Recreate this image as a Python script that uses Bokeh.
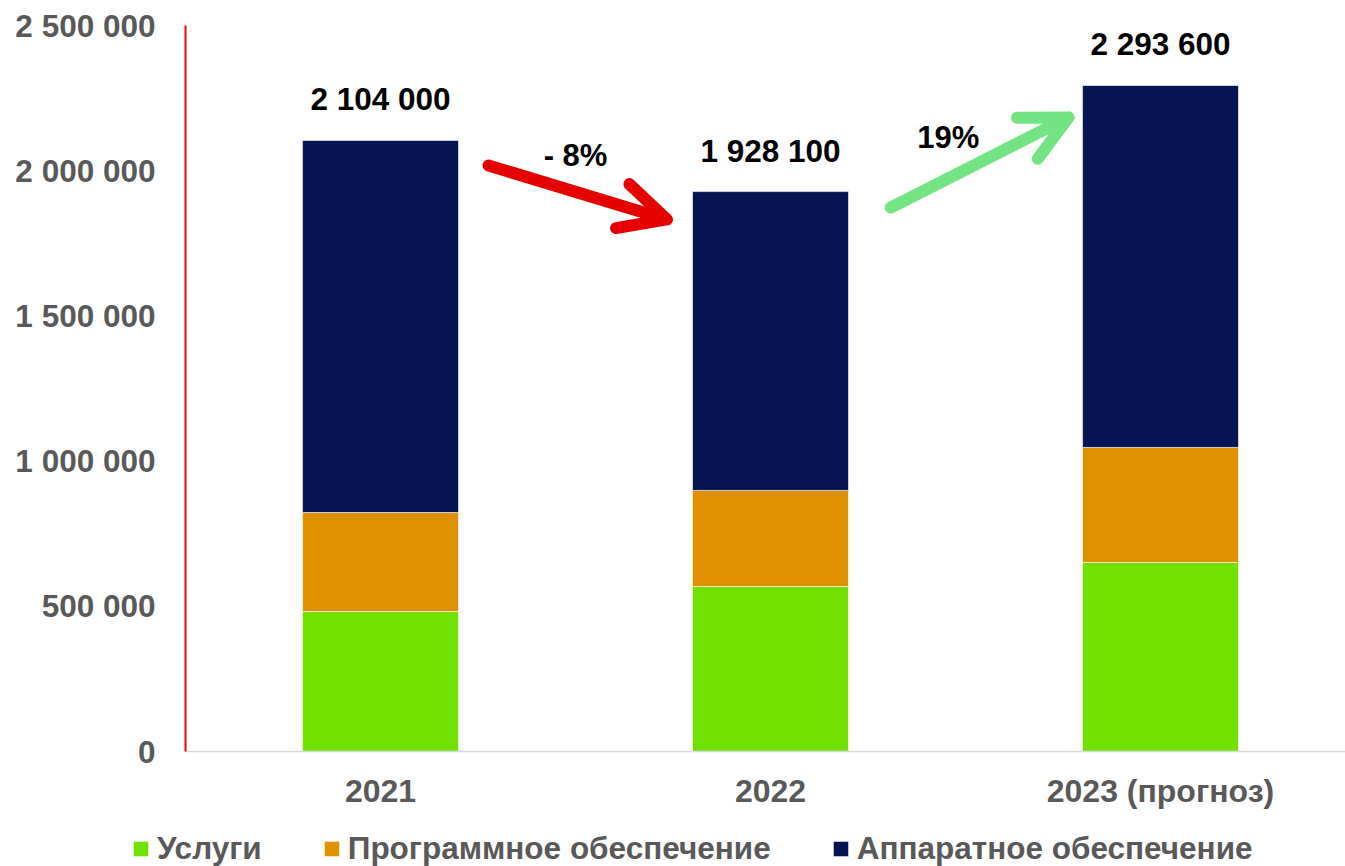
from bokeh.plotting import figure
from bokeh.models import (Range1d, FixedTicker, CustomJSTickFormatter, Legend, LegendItem,
                          Arrow, OpenHead, Label, ColumnDataSource)
from bokeh.core.properties import value
from bokeh.embed import file_html
from bokeh.resources import INLINE

years = ["2021", "2022", "2023 (прогноз)"]
series_names = ["Услуги", "Программное обеспечение", "Аппаратное обеспечение"]
services = [482000, 568000, 651000]
software = [341000, 331000, 396000]
hardware = [1281000, 1029100, 1246600]
y_ticks = [0, 500000, 1000000, 1500000, 2000000, 2500000]
change_labels = ["- 8%", "19%"]

colors = ["#72E000", "#DE9200", "#061551"]
FONT = "Liberation Sans"
GRAY = "#595959"

xs = [i + 0.5 for i in range(len(years))]
totals = [a + b + c for a, b, c in zip(services, software, hardware)]
total_txt = [f"{t:,}".replace(",", " ") for t in totals]

src = ColumnDataSource(dict(x=xs, s=services, w=software, h=hardware,
                            tot=totals, txt=total_txt))

W, H = 1345, 866
# frame covers the whole canvas; axes are pinned at 0 so the legend area stays inside
px_per_x = 390.0
px_per_y = 726.0 / 2500000
x0_px, y0_px = 185, 751
x_rng = Range1d(-x0_px / px_per_x, (W - x0_px) / px_per_x)
y_rng = Range1d(-(H - y0_px) / px_per_y, y0_px / px_per_y)

p = figure(width=W, height=H, output_backend="svg", toolbar_location=None,
           x_range=x_rng, y_range=y_rng,
           min_border_left=0, min_border_right=0, min_border_top=0, min_border_bottom=0)
p.outline_line_color = None
p.xgrid.visible = False
p.ygrid.visible = False

rs = p.vbar_stack(["s", "w", "h"], x="x", width=0.4, source=src, color=colors,
                  line_color="#ffffff", line_alpha=0.6, line_width=1)

p.text(x="x", y="tot", text="txt", source=src, y_offset=-41,
       text_font=value(FONT), text_font_style="bold", text_font_size="31.5px",
       text_color="#000000", text_align="center", text_baseline="middle")

# y axis
p.yaxis.fixed_location = 0
p.yaxis.bounds = (0, y_ticks[-1])
p.yaxis.ticker = FixedTicker(ticks=y_ticks)
p.yaxis.formatter = CustomJSTickFormatter(
    code='return Math.round(tick).toString().replace(/\\B(?=(\\d{3})+(?!\\d))/g, " ");')
p.yaxis.axis_line_color = "#FF0000"
p.yaxis.axis_line_width = 2
p.yaxis.major_tick_line_color = None
p.yaxis.minor_tick_line_color = None
p.yaxis.major_label_standoff = 24
p.yaxis.major_label_text_font = FONT
p.yaxis.major_label_text_font_style = "bold"
p.yaxis.major_label_text_font_size = "31.5px"
p.yaxis.major_label_text_color = GRAY

# x axis
p.xaxis.fixed_location = 0
p.xaxis.bounds = (0, x_rng.end)
p.xaxis.ticker = FixedTicker(ticks=xs)
p.xaxis.major_label_overrides = {x: y for x, y in zip(xs, years)}
p.xaxis.axis_line_color = "#D9D9D9"
p.xaxis.axis_line_width = 1.5
p.xaxis.major_tick_line_color = None
p.xaxis.minor_tick_line_color = None
p.xaxis.major_label_standoff = 15
p.xaxis.major_label_text_font = FONT
p.xaxis.major_label_text_font_style = "bold"
p.xaxis.major_label_text_font_size = "32px"
p.xaxis.major_label_text_color = GRAY

# arrows (anchored to bar edges / totals)
red = "#E60000"
green = "#74E383"
p.add_layout(Arrow(end=OpenHead(size=46, line_color=red, line_width=12, line_cap="round", line_join="round"),
                   x_start=xs[0] + 0.277, y_start=totals[0] - 86000,
                   x_end=xs[1] - 0.266, y_end=totals[1] - 96000,
                   line_color=red, line_width=12, line_cap="round"))
p.add_layout(Arrow(end=OpenHead(size=46, line_color=green, line_width=12, line_cap="round", line_join="round"),
                   x_start=xs[1] + 0.308, y_start=totals[1] - 55000,
                   x_end=xs[2] - 0.236, y_end=totals[2] - 110000,
                   line_color=green, line_width=12, line_cap="round"))

p.add_layout(Label(x=(xs[0] + xs[1]) / 2, y=totals[0] - 52000, text=change_labels[0],
                   text_font=FONT, text_font_style="bold", text_font_size="31px",
                   text_color="#000000", text_align="center", text_baseline="middle"))
p.add_layout(Label(x=(xs[1] + xs[2]) / 2 - 0.044, y=totals[1] + 186000, text=change_labels[1],
                   text_font=FONT, text_font_style="bold", text_font_size="31px",
                   text_color="#000000", text_align="center", text_baseline="middle"))

legend = Legend(items=[LegendItem(label=n, renderers=[r]) for n, r in zip(series_names, rs)],
                orientation="horizontal", location=(131, -1),
                glyph_width=19, glyph_height=19, label_standoff=7, spacing=60,
                padding=0, margin=0, border_line_color=None, background_fill_alpha=0,
                label_text_font=FONT, label_text_font_style="bold",
                label_text_font_size="31.5px", label_text_color=GRAY)
p.add_layout(legend, "center")

open("out.html", "w").write(file_html(p, INLINE))
